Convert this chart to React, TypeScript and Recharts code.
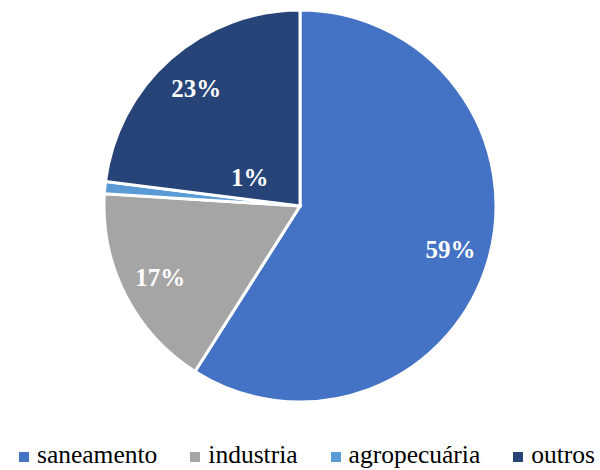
import { PieChart, Pie, Cell, Legend } from 'recharts';

const categories = ['saneamento', 'industria', 'agropecuária', 'outros'];
const shares = [59, 17, 1, 23];
const colors = ['#4472C4', '#A5A5A5', '#5B9BD5', '#264478'];

const data = categories.map((name, i) => ({ name, value: shares[i] }));

const SERIF = "'Liberation Serif', 'DejaVu Serif'";
const RADIAN = Math.PI / 180;

const renderLabel = (props: any) => {
    const { cx, cy, midAngle, outerRadius, value } = props;
    // the tiny slice gets its label pulled inside the neighbouring slice, like Excel does
    const small = value < 3;
    const r = small ? outerRadius * 0.295 : outerRadius * 0.8;
    const angle = small ? midAngle - 24 : midAngle;
    const x = cx + r * Math.cos(-angle * RADIAN);
    const y = cy + r * Math.sin(-angle * RADIAN);
    return (
        <text
            x={x}
            y={y}
            fill="#fff"
            textAnchor="middle"
            dominantBaseline="central"
            style={{ fontFamily: SERIF, fontWeight: 700, fontSize: 25 }}
        >
            {`${value}%`}
        </text>
    );
};

const renderLegend = () => (
    <div
        style={{
            display: 'flex',
            justifyContent: 'center',
            gap: 33,
            fontFamily: SERIF,
            fontSize: 25.5,
            lineHeight: '29px',
            color: '#000',
            paddingLeft: 14,
        }}
    >
        {categories.map((name, i) => (
            <div key={name} style={{ display: 'flex', alignItems: 'center' }}>
                <span
                    style={{
                        display: 'inline-block',
                        width: 10,
                        height: 10,
                        background: colors[i],
                        marginRight: 8,
                        marginTop: 4,
                    }}
                />
                <span>{name}</span>
            </div>
        ))}
    </div>
);

export default function App() {
    return (
        <div style={{ position: 'absolute', left: 0, top: 0, width: 600, height: 470, background: '#fff' }}>
            <PieChart width={600} height={470} margin={{ top: 0, right: 0, bottom: 0, left: 0 }}>
                <Pie
                    data={data}
                    dataKey="value"
                    nameKey="name"
                    cx={300}
                    cy={206}
                    outerRadius={196}
                    startAngle={90}
                    endAngle={-270}
                    stroke="#fff"
                    strokeWidth={3}
                    label={renderLabel}
                    labelLine={false}
                    isAnimationActive={false}
                >
                    {data.map((d, i) => (
                        <Cell key={d.name} fill={colors[i]} />
                    ))}
                </Pie>
                <Legend
                    verticalAlign="bottom"
                    content={renderLegend}
                    wrapperStyle={{ bottom: 1 }}
                />
            </PieChart>
        </div>
    );
}
